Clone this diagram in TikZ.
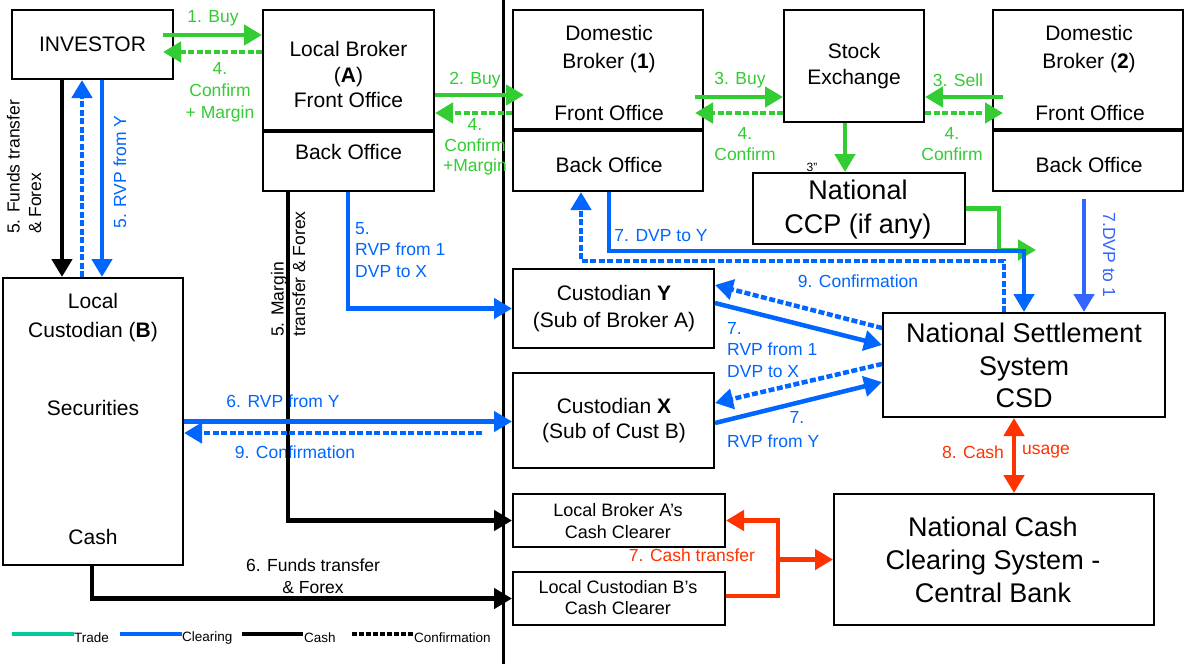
\documentclass[tikz,border=0pt]{standalone}
\usepackage{fontspec}
\setmainfont{Liberation Sans}
\usetikzlibrary{arrows.meta,calc}
\definecolor{tgreen}{RGB}{51,204,51}
\definecolor{cblue}{RGB}{0,102,255}
\definecolor{cblue2}{RGB}{51,102,255}
\definecolor{cred}{RGB}{255,51,0}
\definecolor{tteal}{RGB}{0,204,153}
\begin{document}
\begin{tikzpicture}[x=1pt,y=-1pt,
 box/.style={draw, line width=2pt, inner sep=0pt, rectangle},
 txt/.style={inner sep=0pt, align=center, font=\fontsize{21}{25.5}\selectfont},
 big/.style={inner sep=0pt, align=center, font=\fontsize{27}{33}\selectfont},
 sml/.style={inner sep=0pt, align=center, font=\fontsize{18}{21.5}\selectfont},
 lbl/.style={inner sep=0pt, align=center, font=\fontsize{17.5}{21.5}\selectfont},
 leg/.style={inner sep=0pt, anchor=west, font=\fontsize{13.5}{14}\selectfont},
 conn/.style={line width=4.5pt, -{Triangle[length=18pt,width=20pt]}},
 dconn/.style={conn, dash pattern=on 6pt off 2.5pt},
 divider/.style={line width=4.5pt}
]
\useasboundingbox (0,0) rectangle (1185,664);
\fill[white] (0,0) rectangle (1185,664);

% boxes
\node[box, minimum width=161pt, minimum height=69pt] (inv) at (92.5,44.5) {};
\node[box, minimum width=171pt, minimum height=181pt] (lba) at (348.5,100.5) {};
\node[box, minimum width=180pt, minimum height=287pt] (lcb) at (93,421.5) {};
\node[box, minimum width=190pt, minimum height=181pt] (db1) at (608,100.5) {};
\node[box, minimum width=140pt, minimum height=112pt] (se) at (854,66) {};
\node[box, minimum width=190pt, minimum height=181pt] (db2) at (1088,100.5) {};
\node[box, minimum width=212pt, minimum height=71pt] (ccp) at (859,208.5) {};
\node[box, minimum width=201pt, minimum height=79pt] (cy) at (613.5,308.5) {};
\node[box, minimum width=201pt, minimum height=95pt] (cx) at (613.5,420.5) {};
\node[box, minimum width=282pt, minimum height=104pt] (nss) at (1024,365) {};
\node[box, minimum width=212pt, minimum height=53pt] (cca) at (619,520.5) {};
\node[box, minimum width=212pt, minimum height=53pt] (ccb) at (619,598.5) {};
\node[box, minimum width=320pt, minimum height=131pt] (nccs) at (994,559.5) {};

\draw[divider] (lba.west |- 0,131) -- (lba.east |- 0,131);
\draw[divider] (db1.west |- 0,130) -- (db1.east |- 0,130);
\draw[divider] (db2.west |- 0,130) -- (db2.east |- 0,130);

% vertical separator
\draw[line width=3pt] (503,0) -- (503,664);

% box texts
\node[txt] (tinv) at (92.5,44.5) {INVESTOR};
\node[txt] (tlba) at (348.5,74.5) {Local Broker\\(\textbf{A})\\Front Office};
\node[txt] (tlbab) at (348.5,152) {Back Office};
\node[txt, font=\fontsize{21}{28}\selectfont] (tdb1) at (609,49) {Domestic\\Broker (\textbf{1})};
\node[txt] (tdb1f) at (609,113) {Front Office};
\node[txt] (tdb1b) at (609,165) {Back Office};
\node[txt, font=\fontsize{21}{26}\selectfont] (tse) at (854,66) {Stock\\Exchange};
\node[txt, font=\fontsize{21}{28}\selectfont] (tdb2) at (1089,49) {Domestic\\Broker (\textbf{2})};
\node[txt] (tdb2f) at (1090,113) {Front Office};
\node[txt] (tdb2b) at (1089,165) {Back Office};
\node[big, font=\fontsize{27}{34}\selectfont] (tccp) at (858,210) {National\\CCP (if any)};
\node[big, font=\fontsize{27}{32.5}\selectfont] (tnss) at (1024,365.5) {National Settlement\\System\\CSD};
\node[big] (tnccs) at (993,560) {National Cash\\Clearing System -\\Central Bank};
\node[txt, font=\fontsize{21}{27}\selectfont] (tcy) at (614,308.5) {Custodian \textbf{Y}\\(Sub of Broker A)};
\node[txt, font=\fontsize{21}{25}\selectfont] (tcx) at (614,420.5) {Custodian \textbf{X}\\(Sub of Cust B)};
\node[sml, font=\fontsize{18}{22}\selectfont] (tcca) at (618,521) {Local Broker A’s\\Cash Clearer};
\node[sml] (tccb) at (618,597.5) {Local Custodian B’s\\Cash Clearer};
\node[txt, font=\fontsize{21}{29}\selectfont] (tlcb) at (93,317.5) {Local\\Custodian (\textbf{B})};
\node[txt] (tsec) at (93,408) {Securities};
\node[txt] (tcash) at (93,537) {Cash};

% labels
\node[lbl, tgreen] (l1) at (213,18) {1. Buy};
\node[lbl, tgreen, font=\fontsize{17.5}{22}\selectfont] (l4a) at (220,92) {4.\\Confirm\\+ Margin};
\node[lbl, tgreen] (l2) at (475,80) {2. Buy};
\node[lbl, tgreen, font=\fontsize{17.5}{20.5}\selectfont] (l4b) at (475,147) {4.\\Confirm\\+Margin};
\node[lbl, tgreen] (l3) at (740,80) {3. Buy};
\node[lbl, tgreen] (l4c) at (745,144) {4.\\Confirm};
\node[lbl, tgreen] (l3s) at (958,80) {3. Sell};
\node[lbl, tgreen] (l4d) at (952,144) {4.\\Confirm};
\node[inner sep=0pt, font=\fontsize{12}{12}\selectfont] (l3pp) at (812,167) {3”};
\node[lbl, cblue] (l7y) at (661,236) {7. DVP to Y};
\node[lbl, cblue] (l9a) at (858,281) {9. Confirmation};
\node[lbl, cblue2, rotate=-90] (l7d1) at (1109,255) {7.DVP to 1};
\node[lbl, cblue, align=left, anchor=west] (l7r1) at (727,350) {7.\\RVP from 1\\DVP to X};
\node[lbl, cblue] (l7x) at (797,417) {7.};
\node[lbl, cblue, anchor=west] (l7ry) at (727,441) {RVP from Y};
\node[lbl, cred] (l8a) at (973,452) {8. Cash};
\node[lbl, cred] (l8b) at (1046,452) {usage};
\node[lbl, cred] (l7c) at (692,555) {7. Cash transfer};
\node[lbl, rotate=90, align=left] (l5f) at (24,167) {5. Funds transfer\\\& Forex};
\node[lbl, cblue, rotate=90] (l5r) at (120,172) {5. RVP from Y};
\node[lbl, rotate=90, align=left] (l5m) at (288,274) {5. Margin\\transfer \& Forex};
\node[lbl, cblue, align=left, anchor=west] (l5b) at (355,250) {5.\\RVP from 1\\DVP to X};
\node[lbl, cblue] (l6r) at (283,401) {6. RVP from Y};
\node[lbl, cblue] (l9b) at (295,452) {9. Confirmation};
\node[lbl] (l6f) at (313,576) {6. Funds transfer\\\& Forex};

% trade (green)
\draw[conn, tgreen] ($(inv.east)+(-11,-9.5)$) -- ($(lba.west)+(0,-65.5)$);
\draw[dconn, tgreen] ($(lba.west)+(0,-48.5)$) -- ($(inv.east)+(-11,7.5)$);
\draw[conn, tgreen] ($(lba.east)+(0,-5.5)$) -- ($(db1.west)+(12,-5.5)$);
\draw[dconn, tgreen] ($(db1.west)+(0,12.5)$) -- ($(lba.east)+(0,12.5)$);
\draw[conn, tgreen] ($(db1.east)+(-9,-3.5)$) -- ($(se.west)+(0,31)$);
\draw[dconn, tgreen] ($(se.west)+(0,47)$) -- ($(db1.east)+(-9,12.5)$);
\draw[conn, tgreen] ($(db2.west)+(11,-3.5)$) -- ($(se.east)+(0,31)$);
\draw[dconn, tgreen] ($(se.east)+(0,47)$) -- ($(db2.west)+(11,12.5)$);
\draw[conn, tgreen] ($(se.south)+(-9,0)$) -- ($(ccp.north)+(-14,0)$);
\draw[conn, tgreen] (ccp.east) -- ++(33,0) -- ++(0,41.5) -- ++(37,0);

% cash (black)
\draw[conn] ($(inv.south)+(-30.5,0)$) -- ($(lcb.north)+(-31,0)$);
\draw[conn] ($(lba.south)+(-60.5,0)$) |- (cca.west);
\draw[conn] ($(lcb.south)+(-1,0)$) |- (ccb.west);

% clearing (blue)
\draw[conn, cblue] ($(inv.south)+(9.5,0)$) -- ($(lcb.north)+(9,0)$);
\draw[dconn, cblue] ($(lcb.north)+(-11,0)$) -- ($(inv.south)+(-10.5,0)$);
\draw[conn, cblue] ($(lba.south)+(-0.5,0)$) |- (cy.west);
\draw[conn, cblue] (lcb.east) -- (lcb.east -| cx.west);
\draw[dconn, cblue] ($(cx.west)+(-30,12.5)$) -- ($(lcb.east)+(0,11.5)$);
\draw[conn, cblue] ($(db1.south)+(1,0)$) -- ++(0,59) -| (nss.north);
\draw[dconn, cblue] ($(nss.north)+(-20,0)$) -- ++(0,-51) -| ($(db1.south)+(-27,0)$);
\draw[conn, cblue2] ($(db2.south)+(-4,7)$) -- ($(nss.north)+(60,0)$);
\draw[conn, cblue] ($(cy.east)+(0,-5.5)$) -- ($(nss.west)+(0,-20)$);
\draw[dconn, cblue] ($(nss.west)+(0,-37)$) -- ($(cy.east)+(0,-23.5)$);
\draw[dconn, cblue] ($(nss.west)+(0,-1)$) -- ($(cx.east)+(0,-17.5)$);
\draw[conn, cblue] ($(cx.east)+(0,2.5)$) -- ($(nss.west)+(0,17)$);

% cash (red)
\draw[conn, cred, {Triangle[length=18pt,width=20pt]}-{Triangle[length=18pt,width=20pt]}] ($(nss.south)+(-10,0)$) -- ($(nccs.north)+(20,0)$);
\draw[conn, cred] ($(ccb.east)+(0,-2.5)$) -- ++(52,0) |- (cca.east);
\draw[conn, cred] ($(nccs.west)+(-57,0)$) -- (nccs.west);

% legend
\draw[line width=4.5pt, tteal] (12,634) -- (74,634);
\node[leg] (lgt) at (74,638) {Trade};
\draw[line width=4.5pt, cblue] (120,634) -- (182,634);
\node[leg] (lgc) at (182,638) {Clearing};
\draw[line width=4.5pt] (242,634) -- (303,634);
\node[leg] (lgk) at (304,638) {Cash};
\draw[line width=4.5pt, dash pattern=on 4.5pt off 2.5pt] (352,634) -- (413,634);
\node[leg] (lgf) at (414,638) {Confirmation};
\end{tikzpicture}
\end{document}
